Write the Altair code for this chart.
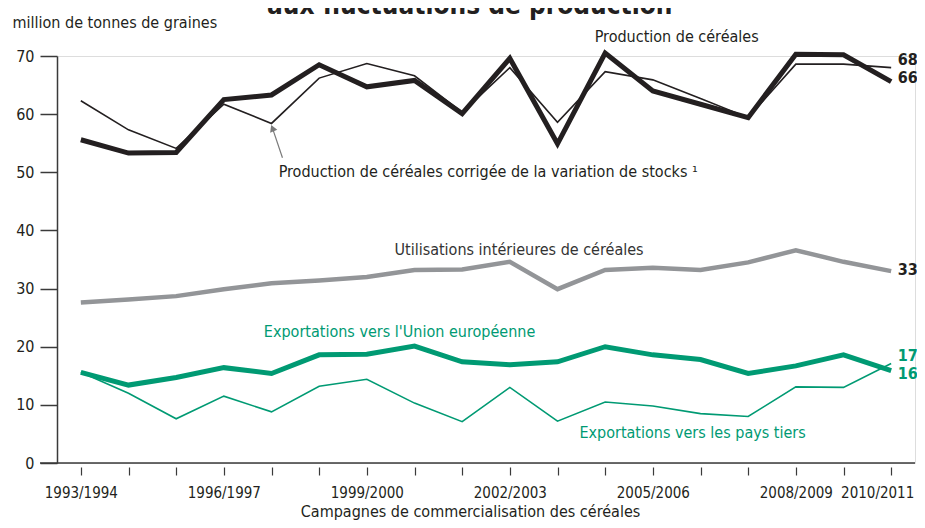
import altair as alt
import pandas as pd

seasons = ["1993/1994", "1994/1995", "1995/1996", "1996/1997", "1997/1998", "1998/1999",
           "1999/2000", "2000/2001", "2001/2002", "2002/2003", "2003/2004", "2004/2005",
           "2005/2006", "2006/2007", "2007/2008", "2008/2009", "2009/2010", "2010/2011"]
production = [55.6, 53.3, 53.4, 62.5, 63.3, 68.5, 64.7, 65.8, 60.1, 69.6, 54.9, 70.5,
              64.0, 61.7, 59.4, 70.3, 70.2, 65.6]
corrigee = [62.3, 57.3, 54.1, 61.7, 58.4, 66.2, 68.7, 66.6, 60.3, 68.0, 58.6, 67.3,
            65.9, 62.7, 59.4, 68.6, 68.6, 68.0]
interieur = [27.6, 28.1, 28.7, 29.9, 30.9, 31.4, 32.0, 33.2, 33.3, 34.6, 29.9, 33.2,
             33.6, 33.2, 34.5, 36.6, 34.6, 33.0]
export_ue = [15.6, 13.4, 14.7, 16.4, 15.4, 18.6, 18.7, 20.1, 17.4, 16.9, 17.4, 20.0,
             18.6, 17.8, 15.4, 16.7, 18.6, 15.9]
export_tiers = [15.6, 12.0, 7.6, 11.5, 8.8, 13.2, 14.4, 10.3, 7.1, 13.0, 7.2, 10.5,
                9.8, 8.5, 8.0, 13.1, 13.0, 17.1]
shown_labels = ["1993/1994", "1996/1997", "1999/2000", "2002/2003", "2005/2006",
                "2008/2009", "2010/2011"]

FONT = "DejaVu Sans Condensed, DejaVu Sans, sans-serif"
BLACK = "#231f20"
GREY = "#939598"
GREEN = "#009a73"
AXIS = "#3a3a3a"
FS = 16

df = pd.DataFrame({
    "i": list(range(len(seasons))),
    "saison": seasons,
    "production": production,
    "corrigee": corrigee,
    "interieur": interieur,
    "ue": export_ue,
    "tiers": export_tiers,
})

label_arr = "[" + ",".join(
    "'" + (s if s in shown_labels else "") + "'" for s in seasons) + "]"
last = len(seasons) - 1

xscale = alt.Scale(domain=[-0.5, len(seasons) - 0.5], nice=False, zero=False)
yscale = alt.Scale(domain=[0, 70], nice=False)

x_axis = alt.Axis(
    values=list(range(len(seasons))), labelExpr=label_arr + "[datum.value]",
    domain=False, grid=False, offset=4, tickSize=8, tickColor=AXIS, tickWidth=1.2,
    labelFont=FONT, labelFontSize=15, labelColor=BLACK, labelPadding=10,
    labelFlush=False, labelOverlap=False,
    labelOffset={"condition": {"test": f"datum.value == {last}", "value": -14},
                 "value": 0},
    title="Campagnes de commercialisation des céréales", titleFont=FONT,
    titleFontSize=FS, titleFontWeight="normal", titleColor=BLACK,
    titleX=413, titleY=49, titleAlign="center", titleBaseline="alphabetic",
)
y_axis = alt.Axis(
    values=[0, 10, 20, 30, 40, 50, 60, 70], grid=False, domainColor=AXIS,
    domainWidth=1.5, tickColor=AXIS, tickWidth=1.5, tickSize=17,
    labelFont=FONT, labelFontSize=FS, labelColor=BLACK, labelPadding=6,
    labelFlush=False,
    title="million de tonnes de graines", titleFont=FONT, titleFontSize=FS,
    titleFontWeight="normal", titleColor=BLACK, titleAngle=0, titleAlign="left",
    titleBaseline="alphabetic", titleX=-45, titleY=-29,
)


def X(field):
    return alt.X(field + ":Q", scale=xscale, axis=x_axis)


def Y(field):
    return alt.Y(field + ":Q", scale=yscale, axis=y_axis)


base = alt.Chart(df)


def line(field, color, width):
    return base.mark_line(color=color, strokeWidth=width, strokeJoin="miter",
                          clip=False).encode(x=X("i"), y=Y(field))


baseline = alt.Chart(pd.DataFrame({"v": [0]})).mark_rule(
    color=AXIS, strokeWidth=1.5).encode(
    y=Y("v"), x=alt.value(-17), x2=alt.value(858))


def txt(text, xv, yv, color=BLACK, size=FS, weight="normal", align="left"):
    return alt.Chart(pd.DataFrame({"x": [xv], "y": [yv], "t": [text]})).mark_text(
        font=FONT, fontSize=size, fontWeight=weight, color=color, align=align,
        baseline="alphabetic").encode(x=X("x"), y=Y("y"), text="t:N")


arrow_df = pd.DataFrame({"x": [4.23], "y": [52.5], "x2": [4.02], "y2": [57.6]})
arrow_line = alt.Chart(arrow_df).mark_rule(color="#7a7a7a", strokeWidth=1.2).encode(
    x=X("x"), y=Y("y"), x2="x2:Q", y2="y2:Q")
arrow_head = alt.Chart(arrow_df).mark_point(
    shape="triangle-up", filled=True, color="#7a7a7a", size=60, angle=338,
    opacity=1).encode(x=X("x2"), y=Y("y2"))

END_X = 17.14
layers = [
    line("interieur", GREY, 4.5),
    baseline,
    line("corrigee", BLACK, 1.6),
    line("production", BLACK, 5),
    line("tiers", GREEN, 1.6),
    line("ue", GREEN, 5),
    arrow_line, arrow_head,
    txt("aux fluctuations de production", 8.16, 77.2, size=26, weight="bold", align="center"),
    txt("Production de céréales", 10.78, 72.4),
    txt("Production de céréales corrigée de la variation de stocks ¹", 4.15, 49.2),
    txt("Utilisations intérieures de céréales", 6.58, 35.8, color="#333333"),
    txt("Exportations vers l'Union européenne", 3.84, 21.7, color=GREEN),
    txt("Exportations vers les pays tiers", 10.46, 4.3, color=GREEN),
    txt("68", END_X, 68.4, weight="bold"),
    txt("66", END_X, 65.3, weight="bold"),
    txt("33", END_X, 32.3, weight="bold"),
    txt("17", END_X, 17.5, color=GREEN, weight="bold"),
    txt("16", END_X, 14.4, color=GREEN, weight="bold"),
]

chart = alt.layer(*layers).properties(
    width=858, height=407,
    autosize=alt.AutoSizeParams(type="none"),
    padding={"left": 49, "top": 48, "right": 2, "bottom": 57},
).configure_view(strokeWidth=0, stroke="transparent").configure(background="white")

chart.save("out.html", embed_options={"renderer": "svg", "actions": False})
